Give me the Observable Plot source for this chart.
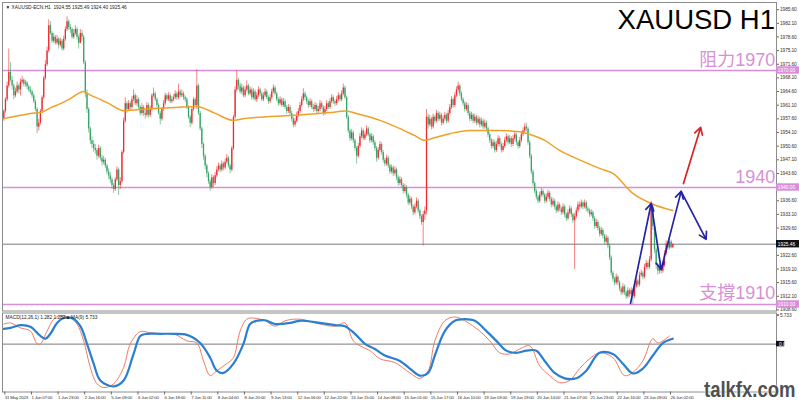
<!DOCTYPE html>
<html><head><meta charset="utf-8">
<script src="https://cdn.jsdelivr.net/npm/d3@7"></script>
<script src="https://cdn.jsdelivr.net/npm/@observablehq/plot@0.6"></script>
<style>
html,body{margin:0;padding:0;background:#fff;}
#wrap{position:relative;width:799px;height:402px;overflow:hidden;background:#fff;font-family:"Liberation Sans",Arial,sans-serif;}
#wrap svg{position:absolute;left:0;overflow:visible;}
#wrap g[aria-label="x-axis tick label"] text{letter-spacing:-0.2px;}
#wrap g[aria-label="y-axis tick label"] text{letter-spacing:-0.1px;}
#wm{position:absolute;left:704px;top:377px;font:bold 22px "Liberation Sans",Arial,sans-serif;color:#505050;transform-origin:left top;transform:scaleX(0.84);text-shadow:0 0 2px #fff,0 0 2px #fff;white-space:nowrap;}
</style></head><body><div id="wrap"><div id="wm">talkfx.com</div></div>
<script>
// ---------- data (H1 candles, bar 0 = 31 May 2023 15:00) ----------
const firstOpen = 1957.5;
const closes = [
1959.5,1962.5,1966,1969.5,1967.5,1966,1963.5,1964.5,1966,1965,
1967,1967.5,1966.5,1966.8,1965.8,1965,1964.5,1963.5,1962,1960,
1955.5,1956.5,1959.5,1963,1968,1971.5,1975,1981.5,1979.5,1977.5,
1978.5,1977,1978,1976.5,1977.5,1975.5,1978,1980.5,1982.5,1981,
1980.5,1978.5,1979.5,1980.5,1978.5,1977,1979.5,1978.5,1972,1964,
1960,1955,1952,1951,1950,1949.5,1948,1950,1947.5,1946.5,
1947,1945.5,1944,1943,1942,1940.5,1939.5,1942,1944.5,1940.5,
1941.5,1949,1957,1961.5,1960,1961.5,1960.5,1962.5,1963.5,1961.5,
1962.5,1960.5,1959,1960.5,1959,1958.5,1961,1958.5,1960,1963.5,
1964,1962.5,1961,1959,1957.5,1960,1961.5,1963.5,1962.5,1963.5,
1962,1962.5,1963,1964,1963,1964.5,1963.5,1964,1963,1962.5,
1960.5,1958,1956.5,1960,1962.5,1961,1966,1959,1955,1951,
1948,1945.5,1943.5,1941.5,1940,1942.5,1941,1943,1944.5,1945.5,
1944.5,1946,1945,1946.5,1947.5,1945.5,1944.5,1950,1958,1965,
1967.5,1966,1964.5,1965.5,1963.5,1965,1966,1964,1965,1963,
1964.5,1962.5,1963.5,1965,1964,1962.5,1963.5,1964.5,1963,1962,
1963,1964.5,1965.5,1964,1962.5,1961.5,1962.5,1961,1962,1960.5,
1959.5,1960.5,1959,1957.5,1956,1957,1958.5,1959.5,1961,1962.5,
1964,1963,1962,1961,1962,1960.5,1960,1961,1959.5,1960,
1961.5,1960.5,1959,1960,1961.5,1960.5,1962,1963,1962,1961.5,
1962.5,1963.5,1962.5,1964,1965.5,1963,1958,1954.5,1952.5,1954,
1952,1950,1948,1950.5,1953,1954.5,1952.5,1953.5,1955,1953.5,
1952,1953,1951.5,1950,1947.5,1949.5,1951,1949,1947,1946,
1947.5,1945.5,1944,1945,1943.5,1944.5,1942.5,1941,1942,1940.5,
1939,1940,1938,1936,1937,1935,1933.5,1935,1936.5,1934,
1932.5,1931,1933,1934,1958,1956,1957.5,1955.5,1958,1957,
1959,1957.5,1958.5,1956.5,1957.5,1958.5,1957,1959,1960.5,1962.5,
1961,1963.5,1965,1966,1964,1962.5,1961.5,1960,1961,1959,
1957.5,1958.5,1957,1958,1956.5,1957.5,1956,1957,1955.5,1956.5,
1955,1953.5,1952,1950.5,1951.5,1949.5,1951,1952.5,1951,1949.5,
1950.5,1952,1953,1951.5,1952.5,1951,1952.5,1953.5,1951.5,1950.5,
1952,1953.5,1954.5,1955.5,1955,1951.5,1948,1944,1941,1939,
1937.5,1936.5,1938,1939,1938,1936.5,1937.5,1938.5,1937,1935.5,
1936.5,1935,1934,1935.5,1934.5,1933.5,1935,1933,1932,1933.5,
1934.5,1933,1931.5,1932.5,1934,1935.5,1935,1936,1935,1936,
1934.5,1934,1933,1933.5,1932,1930,1931,1929.5,1928,1929,
1927.5,1926,1927,1925,1922,1918,1916.5,1915.5,1917,1915.5,
1914,1913,1914.5,1913,1912,1913.5,1912.5,1913.5,1912,1914.5,
1916,1915,1917.5,1918,1917,1919.5,1920.5,1919.5,1921.5,1935,
1930,1924,1920,1918.5,1919.5,1918.5,1920,1923,1925.5,1924.5,
1926,1924.55,1925.46];
const highs = [
1960,1963,1967,1975.5,1972,1968.5,1966.5,1965.5,1967,1966.5,
1967.8,1968.5,1968,1967.5,1967.2,1966.3,1965.8,1965,1964,1962.5,
1960.5,1957.5,1960,1963.5,1968.5,1972.5,1976,1983,1982.5,1980,
1979.5,1979,1979,1978.5,1978.3,1978,1978.8,1981.2,1983.8,1983,
1981.8,1981,1980.5,1981.5,1981,1979,1980.5,1980.3,1979,1972.5,
1965,1960.5,1955.5,1953,1952,1951,1950,1950.8,1950.5,1948.3,
1948,1947.5,1946,1944.8,1943.8,1942.5,1941,1942.5,1945.3,1945,
1942.5,1949.5,1957.8,1963,1962,1962.3,1962,1963.3,1965,1964,
1963.5,1963,1961,1961.5,1961,1959.8,1961.8,1961.5,1960.8,1964,
1965.5,1964.5,1963,1961.5,1959.5,1960.5,1962.3,1964.2,1964,1964.3,
1964,1963.3,1963.8,1964.8,1964.5,1966.5,1965,1965,1964.5,1963.5,
1963,1961,1958.5,1960.5,1963,1963,1970.2,1966.5,1959.5,1955.5,
1951.5,1948.5,1946,1944,1942,1943.3,1943,1943.8,1945.3,1946.3,
1946,1946.8,1946.5,1947.3,1948.5,1948,1946,1950.5,1958.5,1965.8,
1970,1968,1966.8,1966.5,1966,1965.8,1967.3,1966.5,1965.8,1965.5,
1965.3,1965,1964.3,1965.8,1965.5,1964.5,1964.3,1965.3,1965,1963.5,
1963.8,1965.2,1966.3,1966,1964.5,1963,1963.3,1963,1962.8,1962.5,
1961,1961.3,1961,1959.5,1958,1957.8,1959.3,1960.3,1961.8,1963.3,
1965.3,1964.5,1963.5,1962.5,1962.8,1962.5,1961.3,1961.8,1961.5,1960.8,
1962.3,1962,1961,1960.8,1962.3,1962,1962.8,1963.8,1963.5,1962.5,
1963.3,1964.3,1964,1964.8,1966.5,1966,1963.5,1958.5,1955,1954.8,
1954.5,1952.5,1950.5,1951.3,1953.8,1955.3,1955,1954.3,1955.8,1955.5,
1954,1953.8,1953.5,1952,1950.5,1950.3,1951.8,1951.5,1949.5,1947.5,
1948.3,1948,1946,1945.8,1945.5,1945.3,1945,1943,1942.8,1942.5,
1941,1940.8,1940.5,1938.5,1937.8,1937.5,1935.5,1935.8,1937.3,1937,
1934.5,1933,1933.8,1935,1960,1958.8,1958.5,1958,1958.8,1958.5,
1959.8,1959.5,1959.3,1959,1958.3,1959.3,1959,1959.8,1961.3,1963.3,
1963,1964.3,1965.8,1967,1966.5,1964.5,1963,1962,1961.8,1961.5,
1959.5,1959.3,1959,1958.8,1958.5,1958.3,1958,1957.8,1957.5,1957.3,
1957,1955.5,1954,1952.5,1952.3,1952,1951.8,1953.3,1953,1951.5,
1951.3,1952.8,1953.8,1953.5,1953.3,1953,1953.3,1954.3,1954,1952,
1952.8,1954.3,1955.3,1956.3,1956.5,1955.5,1952,1948.5,1944.5,1941.5,
1939.5,1938,1938.8,1939.8,1939.5,1938.5,1938.3,1939.3,1939,1937.5,
1937.3,1937,1935.5,1936.3,1936,1935,1935.8,1935.5,1933.5,1934.3,
1935.3,1935,1933.5,1933.3,1934.8,1936.3,1936.3,1936.8,1936.5,1936.8,
1936.5,1935,1934.5,1934.3,1934,1932.5,1931.8,1931.5,1930,1929.8,
1929.5,1928,1927.8,1927.5,1925.5,1922.5,1918.5,1917,1917.8,1917.5,
1916,1914.5,1915.3,1915,1913.5,1914.3,1914,1914.3,1914,1915.3,
1916.8,1916.5,1918.3,1918.8,1918.5,1920.3,1921.3,1921,1922.3,1936.5,
1935.5,1930.5,1924.5,1920.5,1920.3,1920,1920.8,1923.8,1926.3,1926,
1926.8,1926.5,1925.49];
const lows = [
1957,1959,1962,1965.5,1967,1965,1962.5,1963,1964,1964,
1963.5,1966.5,1965.8,1965.8,1965,1964.3,1963.8,1962.8,1961.5,1959.5,
1953.8,1954.5,1956,1959,1962.5,1967.5,1971,1974.5,1979,1977,
1977,1976.5,1976.5,1975.5,1976,1975,1975,1977.5,1980,1980.3,
1979.5,1978,1978,1979,1977.8,1975.5,1976.8,1977.5,1971.5,1963,
1959,1954,1951,1950,1949,1948.5,1947,1947.5,1946.8,1945.5,
1945.8,1944.8,1943.3,1942,1941,1939.5,1938.5,1939,1941.5,1938,
1939.5,1941,1948.5,1956.5,1959,1959.5,1959.5,1960,1962,1961,
1960.8,1960,1958.3,1958.5,1958.2,1957.5,1958,1957.8,1958,1959.5,
1963,1962,1960.3,1958.5,1956,1957,1959.5,1961,1962,1962,
1961.5,1961.5,1962,1962.5,1962.3,1962.5,1963,1963,1962.3,1961.8,
1960,1957.5,1955.4,1956,1959.5,1960.5,1960,1958.5,1954.5,1950,
1947,1944.5,1942.5,1940.8,1939,1939.5,1940,1940.5,1942.5,1944,
1943.8,1944,1944.3,1944.5,1946,1945,1943.5,1944,1949.5,1957.5,
1964.5,1965,1964,1963.8,1963,1963,1964.5,1963.5,1963.5,1962.3,
1962.5,1962,1961.8,1963,1963.3,1962,1962,1963,1962.5,1961.3,
1961.5,1962.5,1964,1963.5,1962,1960.8,1961,1960.5,1960.5,1960,
1958.8,1959,1958.3,1956.8,1955.3,1955.5,1956.5,1958,1959,1960.5,
1962,1962.3,1961.3,1960.3,1960.5,1960,1959.3,1959.5,1959,1958.8,
1959.5,1960,1958.3,1958.5,1959.5,1960,1960,1961.5,1961.3,1960.8,
1961,1962,1962,1962,1963.5,1962.5,1957.5,1953.8,1951.8,1952,
1951.3,1949.3,1946,1947.5,1950,1952.5,1952,1952,1953,1953,
1951.3,1951.5,1950.8,1949.3,1946.5,1947,1949,1948.3,1946.3,1945.3,
1945.5,1944.8,1943.3,1943.5,1942.8,1943,1941.8,1940.3,1940.5,1939.8,
1938.3,1938.5,1937.3,1935.3,1935.5,1934.3,1932.8,1933,1934.5,1933.3,
1931.8,1930.3,1925,1931.5,1933,1955,1955.5,1954.8,1955,1956.3,
1956.5,1956.8,1957,1955.8,1956,1957,1956.3,1956.5,1958.5,1960,
1960.3,1960.5,1963,1964.5,1963.3,1962,1960.8,1959.3,1959.5,1958.3,
1956.8,1957,1956.3,1956.5,1955.8,1956,1955.3,1955.5,1954.8,1955,
1954.3,1952.8,1951.3,1949.8,1950,1948.8,1949,1950.5,1950.3,1948.8,
1949,1950,1951.5,1950.8,1951,1950.3,1950.5,1952,1950.8,1949.8,
1950,1951.5,1953,1954,1954.3,1950.8,1947.3,1943.3,1940.3,1938.3,
1936.8,1935.8,1936,1937.5,1937.3,1935.8,1936,1937,1936.3,1934.8,
1935,1934.3,1933.3,1933.5,1933.8,1932.8,1933,1932.3,1931.3,1931.5,
1933,1932.3,1930.8,1919,1932,1933.5,1934.3,1934.5,1934.3,1934.5,
1933.8,1933.3,1932.3,1932.5,1931.3,1929.3,1929.5,1928.8,1927.3,1927.5,
1926.8,1925.3,1925.5,1924.3,1921.3,1917.3,1915.8,1914.8,1915,1914.8,
1913.3,1912.3,1912.5,1912.3,1911.3,1911.5,1911.8,1912,1910,1911.5,
1914,1914.3,1914.5,1917,1916.3,1916.5,1919,1918.8,1919,1921,
1929,1923,1919,1917.5,1917.8,1917.8,1918,1919.5,1922.5,1923.8,
1924,1924.3,1924.40];

// orange moving average, read at sample bars
const maBar = [0,4,10,16,22,28,34,40,48,52,58,64,72,88,103,116,127,138,145,160,178,196,205,214,226,238,247,253,259,268,280,298,310,316,325,334,347,358,366,378,389,402];
const maVal = [1957.7,1958,1958.5,1959,1959.2,1960.4,1961.5,1962.8,1964.6,1963.7,1962.6,1961.3,1959.7,1960.2,1960.5,1960.8,1959,1957.2,1957.7,1958.2,1958.6,1959.2,1959.6,1958.7,1957.2,1955.1,1953.3,1952.1,1952.8,1953.8,1954.6,1954.6,1954.3,1953.6,1952.1,1949.5,1946.9,1944.9,1943.6,1938.5,1935.9,1934.1];

// MACD sub-window: main (blue) and signal (red)
const macdBar = [0,4,10,16,22,25,28,32,36,41,46,50,54,58,66,72,78,82,86,94,102,110,118,124,128,132,138,144,148,152,157,163,172,178,190,199,205,211,217,223,229,238,244,250,255,259,265,271,277,283,290,296,302,308,314,320,325,331,337,344,350,358,366,372,378,384,390,396,402];
const macdVal = [2.8,3.0,3.5,3.2,1.5,1.0,1.9,3.9,4.8,4.8,3.3,0.05,-3.6,-6.7,-7.8,-6.7,-1.8,1.5,1.9,1.9,1.9,1.7,0.2,-2.5,-4.9,-5.3,-3.6,0.05,3.7,4.3,4.4,3.7,3.9,4.3,3.9,3.5,3.3,1.9,0.05,-0.9,-2.1,-3.1,-4.5,-5.8,-5.3,-2.1,2.4,4.3,4.6,4.3,2.4,0.6,-1.2,-1.6,-1.2,-1.2,-3.1,-5.3,-6.3,-6.3,-4.9,-1.6,-1.8,-3.6,-5.4,-4.5,-2.1,0.2,1.0];
const sigBar = [0,4,10,16,20,22,26,30,34,40,44,48,52,56,60,66,72,76,82,88,94,102,110,116,120,124,128,134,138,142,146,150,157,163,169,178,190,199,205,210,214,220,226,235,244,250,255,259,265,271,277,286,292,298,304,310,316,322,328,334,340,346,352,358,366,373,378,384,390,393,400];
const sigVal = [3.7,3.9,3.0,2.4,0.05,0.05,2.4,4.6,5.2,4.8,3.7,0.6,-4.3,-7.3,-8.0,-7.3,-4.3,0.05,2.3,2.1,1.9,1.9,0.6,0.2,-3.1,-5.8,-4.9,-3.6,-2.5,2.4,4.6,4.8,4.3,3.3,4.3,4.6,3.7,3.3,3.9,0.6,-0.3,-1.2,-2.7,-3.4,-5.3,-6.3,-4.9,0.6,4.3,5.0,4.3,2.4,0.6,-1.6,-1.8,-0.9,-0.3,-4.0,-5.8,-7.1,-6.7,-4.5,-2.7,-1.6,-2.5,-5.8,-5.2,-3.1,1.0,0.2,1.5];

const levels = [1970, 1940, 1910];
const levelNames = ["阻力1970", "1940", "支撐1910"];
const lastPrice = 1925.46;
const yTicks = [1985.6,1982.1,1978.6,1975.1,1971.6,1968.1,1964.6,1961.1,1957.6,1954.1,1950.6,1947.1,1943.6,1936.6,1933.1,1929.6,1922.6,1919.1,1915.6,1912.1,1908.6];
const timeIdx = [0,16,32,48,64,80,96,112,128,144,160,176,192,208,224,240,256,272,288,304,320,336,352,368,384,400];
const timeLabels = ["31 May 2023","1 Jun 07:00","1 Jun 23:00","2 Jun 16:00","5 Jun 09:00","6 Jun 02:00","6 Jun 18:00","7 Jun 11:00","8 Jun 04:00","8 Jun 20:00","9 Jun 13:00","12 Jun 06:00","12 Jun 22:00","13 Jun 15:00","14 Jun 08:00","15 Jun 01:00","15 Jun 17:00","16 Jun 10:00","19 Jun 03:00","19 Jun 19:00","20 Jun 14:00","21 Jun 07:00","21 Jun 23:00","22 Jun 16:00","23 Jun 09:00","26 Jun 02:00"];
// forecast zig-zag (bar, price) and red breakout arrow
const zigBar = [376.6, 389, 395, 407, 422];
const zigVal = [1910.3, 1935.9, 1919.0, 1939.0, 1926.7];
const redBar = [408.4, 418.7];
const redVal = [1941.0, 1955.4];

// ---------- build ----------
const UP = "#ee2a2f", DOWN = "#35a466";
const FONT = "Liberation Sans, Arial, sans-serif";
const XD = [-0.78, 464.3];
const bars = closes.map((c, i) => ({i, o: i ? closes[i-1] : firstOpen, c, h: highs[i], l: lows[i]}));
const col = d => d.c >= d.o ? UP : DOWN;
const ma = maBar.map((b, k) => ({b, v: maVal[k]}));
const macd = macdBar.map((b, k) => ({b, v: macdVal[k]}));
const sig = sigBar.map((b, k) => ({b, v: sigVal[k]}));
const zig = zigBar.slice(1).map((b, k) => ({x1: zigBar[k], y1: zigVal[k], x2: b, y2: zigVal[k+1]}));
const red = [{x1: redBar[0], y1: redVal[0], x2: redBar[1], y2: redVal[1]}];
const boxes = levels.map(v => ({v, fill: "#d88fd8", t: v.toFixed(2)})).concat([{v: lastPrice, fill: "#111", t: lastPrice.toFixed(2)}]);
const LEVEL = "#d88fd8";

const main = Plot.plot({
  width: 799, height: 311,
  marginLeft: 2, marginRight: 23, marginTop: 2, marginBottom: 0.5,
  x: {domain: XD, axis: null},
  y: {domain: [1908.33, 1987.436], axis: null},
  style: {fontFamily: FONT, background: "transparent", overflow: "visible"},
  marks: [
    Plot.ruleY(levels, {stroke: LEVEL, strokeWidth: 1.4}),
    Plot.ruleY([lastPrice], {stroke: "#7a7a7a", strokeWidth: 1}),
    Plot.ruleX(bars, {x: "i", y1: "l", y2: "h", stroke: col, strokeWidth: 0.8, strokeOpacity: 0.75}),
    Plot.ruleX(bars, {x: "i", y1: "o", y2: "c", stroke: col, strokeWidth: 1.3}),
    Plot.line(ma, {x: "b", y: "v", stroke: "#f0a028", strokeWidth: 1.5, curve: "monotone-x"}),
    Plot.arrow(zig, {x1: "x1", y1: "y1", x2: "x2", y2: "y2", stroke: "#2424a8", strokeWidth: 1.7, headLength: 7}),
    Plot.arrow(red, {x1: "x1", y1: "y1", x2: "x2", y2: "y2", stroke: "#d42424", strokeWidth: 1.7, headLength: 7}),
    Plot.frame({stroke: "#8c8c8c"}),
    Plot.axisY({anchor: "right", ticks: yTicks, tickFormat: d => d.toFixed(2), tickSize: 2, tickPadding: 1.5, fontSize: 4.8, label: null, stroke: "#666", fill: "#333"}),
    Plot.rect(boxes, {x1: XD[1], x2: XD[1] + 14.3, y1: d => d.v - 0.95, y2: d => d.v + 0.95, fill: "fill"}),
    Plot.text(boxes, {x: XD[1] + 0.8, y: "v", text: "t", fill: "#fff", fontSize: 4.8, textAnchor: "start"}),
    Plot.text(levelNames, {x: 463.6, y: (d, i) => levels[i] + 1.28, text: d => d, textAnchor: "end", lineAnchor: "bottom", fontSize: 18, fill: LEVEL, fontFamily: "Liberation Sans, Noto Sans CJK TC, sans-serif"}),
    Plot.text(["XAUUSD H1"], {x: 463.4, y: 1980.7, text: d => d, textAnchor: "end", lineAnchor: "bottom", fontSize: 27.5, fill: "#000"}),
    Plot.text(["▼ XAUUSD-ECN,H1  1924.55 1925.49 1924.40 1925.46"], {frameAnchor: "top-left", dx: 3, dy: 3, fontSize: 4.8, fill: "#222", lineAnchor: "top"})
  ]
});
main.style.top = "0px";

const sub = Plot.plot({
  width: 799, height: 91,
  marginLeft: 2, marginRight: 23, marginTop: 1.5, marginBottom: 10.5,
  x: {domain: XD, axis: null},
  y: {domain: [-8.82, 5.733], axis: null},
  style: {fontFamily: FONT, background: "transparent", overflow: "visible"},
  marks: [
    Plot.ruleY([0], {stroke: "#7a7a7a"}),
    Plot.line(sig, {x: "b", y: "v", stroke: "#f07a66", strokeWidth: 1, curve: "catmull-rom"}),
    Plot.line(macd, {x: "b", y: "v", stroke: "#2a7fd0", strokeWidth: 2.2, curve: "catmull-rom"}),
    Plot.frame({stroke: "#8c8c8c"}),
    Plot.axisX(timeIdx, {anchor: "bottom", tickFormat: (d) => timeLabels[timeIdx.indexOf(d)], textAnchor: "start", tickSize: 3, tickPadding: 1, dx: 1, fontSize: 4.4, label: null, stroke: "#666", fill: "#333"}),
    Plot.axisY([5.733], {anchor: "right", tickFormat: d => d.toFixed(3), tickSize: 2, tickPadding: 1.5, fontSize: 4.8, label: null, fill: "#333", dy: 2}),
    Plot.rect([0], {x1: XD[1], x2: XD[1] + 5, y1: -0.5, y2: 0.5, fill: "#111"}),
    Plot.text(["0.00"], {x: XD[1] + 1.5, y: 0, text: d => d, fontSize: 4.8, textAnchor: "start", fill: "#fff"}),
    Plot.text(["MACD(12,26,1) 1.282 1.282 ■ MA(9) 5.733"], {frameAnchor: "top-left", dx: 3, dy: 3, fontSize: 4.8, fill: "#222", lineAnchor: "top"})
  ]
});
sub.style.top = "311px";

const wrap = document.getElementById("wrap");
wrap.insertBefore(sub, wrap.firstChild);
wrap.insertBefore(main, wrap.firstChild);
</script></body></html>
